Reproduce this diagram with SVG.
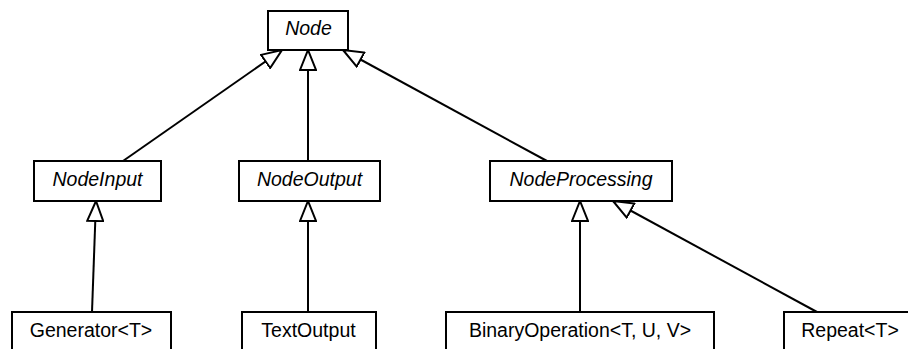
<svg xmlns="http://www.w3.org/2000/svg" width="908" height="349" viewBox="0 0 908 349">
  <style>
    .box { fill: #ffffff; stroke: #000000; stroke-width: 2; }
    .lbl { font-family: "Liberation Sans", Arial, sans-serif; font-size: 19.5px; fill: #000000; text-anchor: middle; }
    .abstract { font-style: italic; }
    .edge { fill: none; stroke: #000000; stroke-width: 2; marker-end: url(#inherit); }
  </style>
  <defs>
    <!-- hollow triangle for generalization -->
    <marker id="inherit" viewBox="0 0 22 18" refX="21" refY="9" markerWidth="22" markerHeight="18" markerUnits="userSpaceOnUse" orient="auto">
      <path d="M1,1 L21,9 L1,17 Z" fill="#ffffff" stroke="#000000" stroke-width="2" stroke-linejoin="miter"/>
    </marker>
  </defs>

  <g id="connectors">
    <line class="edge" x1="123" y1="161" x2="282" y2="50"/>
    <line class="edge" x1="308" y1="161" x2="308" y2="50"/>
    <line class="edge" x1="547" y1="161" x2="343" y2="50"/>
    <line class="edge" x1="92" y1="312" x2="96" y2="201"/>
    <line class="edge" x1="308" y1="312" x2="308" y2="201"/>
    <line class="edge" x1="580" y1="312" x2="580" y2="201"/>
    <line class="edge" x1="817" y1="312" x2="613" y2="201"/>
  </g>

  <g id="node">
    <rect class="box" x="268" y="11" width="80" height="39"/>
    <text class="lbl abstract" x="308.5" y="35">Node</text>
  </g>

  <g id="nodeInput">
    <rect class="box" x="34" y="161" width="127" height="40"/>
    <text class="lbl abstract" x="97.5" y="186">NodeInput</text>
  </g>

  <g id="nodeOutput">
    <rect class="box" x="239" y="161" width="141" height="40"/>
    <text class="lbl abstract" x="309.5" y="186">NodeOutput</text>
  </g>

  <g id="nodeProcessing">
    <rect class="box" x="490" y="161" width="182" height="40"/>
    <text class="lbl abstract" x="581" y="186">NodeProcessing</text>
  </g>

  <g id="generator">
    <rect class="box" x="12" y="312" width="159" height="50"/>
    <text class="lbl" x="91" y="337">Generator&lt;T&gt;</text>
  </g>

  <g id="textOutput">
    <rect class="box" x="242" y="312" width="134" height="50"/>
    <text class="lbl" x="308.5" y="337">TextOutput</text>
  </g>

  <g id="binaryOperation">
    <rect class="box" x="446" y="312" width="268" height="50"/>
    <text class="lbl" x="580" y="337">BinaryOperation&lt;T, U, V&gt;</text>
  </g>

  <g id="repeat">
    <rect class="box" x="784" y="312" width="132" height="50"/>
    <text class="lbl" x="850" y="337">Repeat&lt;T&gt;</text>
  </g>
</svg>
